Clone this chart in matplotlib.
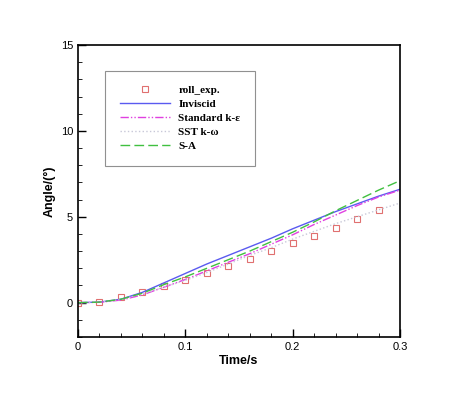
import numpy as np
import matplotlib.pyplot as plt
from matplotlib.ticker import MultipleLocator

# values
t_exp = [0.0, 0.02, 0.04, 0.06, 0.08, 0.10, 0.12, 0.14, 0.16, 0.18, 0.20, 0.22, 0.24, 0.26, 0.28]
roll_exp = [0.0, 0.05, 0.3, 0.6, 0.95, 1.34, 1.7, 2.13, 2.55, 2.98, 3.47, 3.9, 4.36, 4.88, 5.37]

t_sim = [0.0, 0.02, 0.04, 0.06, 0.08, 0.10, 0.12, 0.14, 0.16, 0.18, 0.20, 0.22, 0.24, 0.26, 0.28, 0.30]
inviscid = [0.0, 0.03, 0.2, 0.6, 1.15, 1.7, 2.25, 2.75, 3.25, 3.75, 4.3, 4.8, 5.3, 5.75, 6.2, 6.6]
std_ke = [0.0, 0.02, 0.15, 0.45, 0.9, 1.35, 1.85, 2.35, 2.85, 3.4, 3.95, 4.55, 5.1, 5.65, 6.15, 6.55]
sst_kw = [0.0, 0.03, 0.18, 0.5, 0.9, 1.3, 1.75, 2.25, 2.75, 3.2, 3.7, 4.15, 4.6, 5.0, 5.4, 5.8]
s_a = [0.0, 0.03, 0.2, 0.55, 1.05, 1.5, 2.0, 2.5, 3.0, 3.55, 4.1, 4.7, 5.35, 5.95, 6.55, 7.1]

x_ticks = [0, 0.1, 0.2, 0.3]
x_labels = ['0', '0.1', '0.2', '0.3']
y_ticks = [0, 5, 10, 15]
y_labels = ['0', '5', '10', '15']

fig = plt.figure(figsize=(4.74, 3.93), dpi=100)
ax = fig.add_axes([0.1646, 0.1425, 0.6793, 0.743])

ax.plot(t_exp, roll_exp, ls='none', marker='s', ms=4.5, mfc='none', mec='#e07070', mew=0.8,
        label='roll_exp.')
ax.plot(t_sim, inviscid, color='#5a5af0', lw=1.0, label='Inviscid')
ax.plot(t_sim, std_ke, color='#e040e0', lw=1.0, dashes=(6, 1.5, 1, 1.5, 1, 1.5),
        label='Standard k-\u03b5')
ax.plot(t_sim, sst_kw, color='#c8c8d8', lw=1.0, ls=':', label='SST k-\u03c9')
ax.plot(t_sim, s_a, color='#40c040', lw=1.0, dashes=(7, 3), label='S-A')

ax.set_xlim(0, 0.3)
ax.set_ylim(-2, 15)
ax.set_xticks(x_ticks)
ax.set_xticklabels(x_labels, family='Liberation Sans', fontsize=8)
ax.set_yticks(y_ticks)
ax.set_yticklabels(y_labels, family='Liberation Sans', fontsize=8)
ax.xaxis.set_minor_locator(MultipleLocator(0.02))
ax.yaxis.set_minor_locator(MultipleLocator(1))
ax.tick_params(which='both', direction='in', top=False, right=False)
ax.tick_params(which='major', length=6, width=1)
ax.tick_params(which='minor', length=3, width=0.6)
for s in ax.spines.values():
    s.set_linewidth(1.2)

ax.set_xlabel('Time/s', family='Liberation Sans', fontweight='bold', fontsize=9, labelpad=2)
ax.set_ylabel('Angle/(\u00b0)', family='Liberation Sans', fontweight='bold', fontsize=9, labelpad=4)

leg = ax.legend(loc='upper left', bbox_to_anchor=(0.084, 0.911), borderaxespad=0,
                prop={'family': 'Liberation Serif', 'weight': 'bold', 'size': 8},
                fancybox=False, edgecolor='#909090', framealpha=1,
                handlelength=4.5, handletextpad=0.8, labelspacing=0.38, borderpad=1.3)
leg.get_frame().set_linewidth(0.8)

fig.savefig('out.png', dpi=100)
